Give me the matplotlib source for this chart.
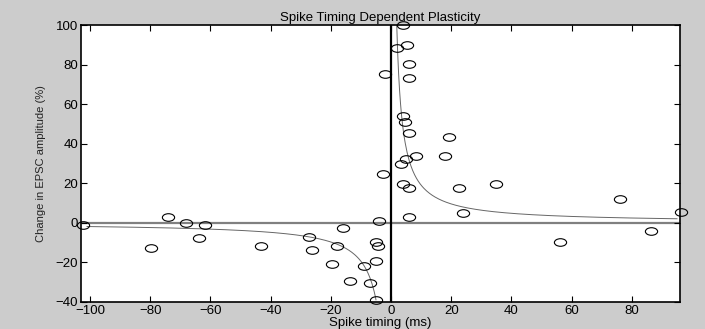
import matplotlib
matplotlib.use('Agg')
import matplotlib.pyplot as plt
import numpy as np
from matplotlib.path import Path
from matplotlib.transforms import Affine2D

# spike timing (ms) and change in EPSC amplitude (%)
timing = [-102.5, -79.8, -74.0, -68.0, -63.7, -61.9, -43.3, -27.2, -26.1, -19.7,
          -18.0, -15.9, -13.7, -9.0, -7.0, -5.1, -4.2, -5.1, -5.1, -4.0,
          -2.8, -2.1, 1.9, 3.2, 4.0, 4.1, 4.0, 4.6, 4.9, 5.2,
          6.0, 6.0, 6.0, 6.0, 6.0, 8.4, 17.9, 19.1, 22.6, 23.9,
          34.8, 56.0, 76.1, 86.3, 96.2]
change = [-1.2, -12.6, 2.9, 0.0, -7.7, -1.2, -11.8, -7.1, -13.8, -20.7,
          -11.8, -2.9, -29.3, -21.7, -30.4, -9.6, -11.7, -19.4, -39.1, 0.7,
          24.5, 75.3, 88.6, 29.5, 19.7, 99.8, 53.8, 51.0, 32.3, 90.0,
          80.1, 73.2, 45.2, 17.6, 2.9, 33.6, 33.7, 43.2, 17.7, 5.1,
          19.6, -9.9, 11.8, -4.0, 5.6]

# fitted curves  y = k / t
k_ltd = 195
k_ltp = 190
t_ltd = np.linspace(-101, -5, 300)
t_ltp = np.linspace(1.9, 95, 300)

plt.rcParams['font.family'] = ['Liberation Sans', 'DejaVu Sans']

fig = plt.figure(figsize=(7.05, 3.29), dpi=100, facecolor='#cccccc')
ax = fig.add_axes([0.1149, 0.0827, 0.8496, 0.8413])

ax.axhline(0, color='#808080', lw=1.6, zorder=1)
ax.axvline(0, color='black', lw=1.6, zorder=1)
ax.plot(t_ltd, k_ltd / t_ltd, color='#666666', lw=0.7, zorder=2)
ax.plot(t_ltp, k_ltp / t_ltp, color='#666666', lw=0.7, zorder=2)

ellipse = Path.unit_circle().transformed(Affine2D().scale(1.0, 0.62))
ax.plot(timing, change, linestyle='none', marker=ellipse, markersize=8.8,
        markerfacecolor='none', markeredgecolor='black', markeredgewidth=0.8,
        clip_on=False, zorder=3)

ax.set_xlim(-103, 96)
ax.set_ylim(-40, 100)
ax.set_xticks(np.arange(-100, 81, 20))
ax.set_yticks(np.arange(-40, 101, 20))
ax.tick_params(direction='in', length=4, width=0.8, top=True, right=True,
               labelsize=9.5, pad=2)
for s in ax.spines.values():
    s.set_linewidth(1.2)

ax.set_title('Spike Timing Dependent Plasticity', fontsize=9.5, pad=3)
ax.set_xlabel('Spike timing (ms)', fontsize=9.5, labelpad=0)
ax.set_ylabel('Change in EPSC amplitude (%)', fontsize=8, labelpad=7, color='#222222')

fig.savefig('out.png', dpi=100, facecolor=fig.get_facecolor())
